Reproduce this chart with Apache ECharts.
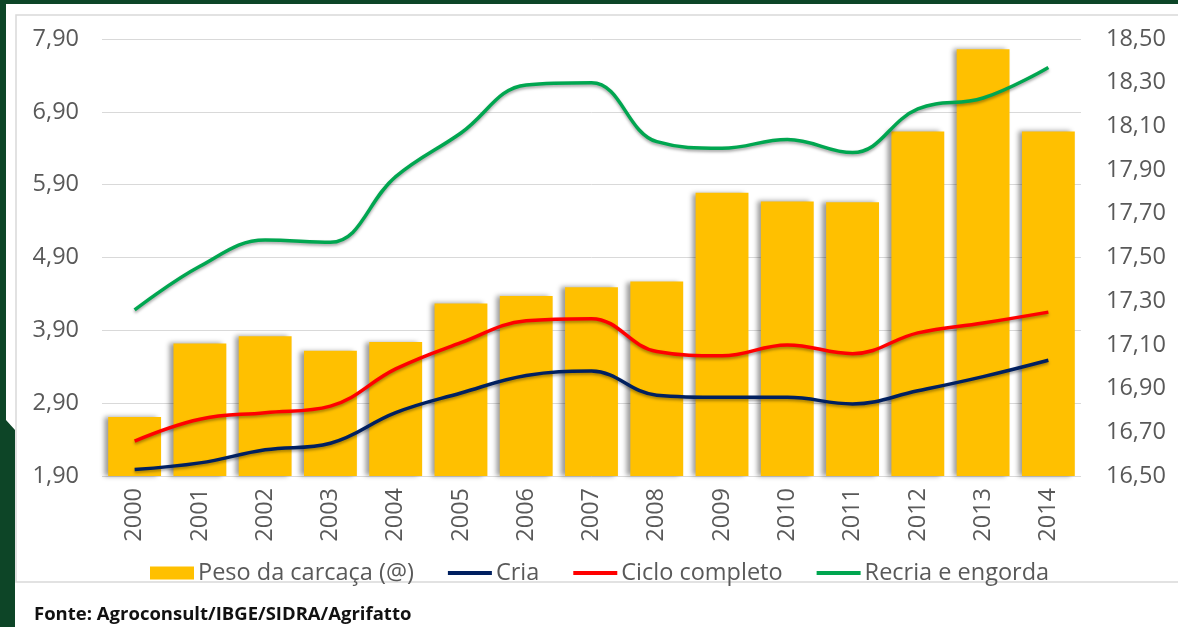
<!DOCTYPE html>
<html><head><meta charset="utf-8">
<script src="https://cdn.jsdelivr.net/npm/echarts@6/dist/echarts.min.js"></script>
<style>html,body{margin:0;padding:0;background:#fff}#c{width:1178px;height:627px}</style>
</head><body><div id="c"></div>
<script>
const years = ['2000','2001','2002','2003','2004','2005','2006','2007','2008','2009','2010','2011','2012','2013','2014'];
const pesoCarcaca = [2.71, 3.72, 3.82, 3.62, 3.74, 4.27, 4.37, 4.49, 4.57, 5.79, 5.67, 5.66, 6.63, 7.76, 6.63];
const cria = [16.53, 16.56, 16.62, 16.65, 16.79, 16.88, 16.96, 16.98, 16.87, 16.86, 16.86, 16.83, 16.89, 16.955, 17.03];
const cicloCompleto = [16.66, 16.76, 16.79, 16.82, 16.99, 17.11, 17.21, 17.22, 17.07, 17.05, 17.10, 17.06, 17.155, 17.20, 17.25];
const recriaEngorda = [17.26, 17.46, 17.58, 17.57, 17.87, 18.07, 18.29, 18.30, 18.03, 18.00, 18.04, 17.98, 18.18, 18.23, 18.37];
const leftAxisScale = [1.9, 7.9, 1];
const rightAxisScale = [16.5, 18.5, 0.2];
const seriesNames = ['Peso da carcaça (@)', 'Cria', 'Ciclo completo', 'Recria e engorda'];
const sourceText = 'Fonte: Agroconsult/IBGE/SIDRA/Agrifatto';

const FONT = '"Open Sans", sans-serif';
const FS = 23.5;
const fmt = v => v.toFixed(2).replace('.', ',');
const chart = echarts.init(document.getElementById('c'));
const lineShadow = {shadowColor: 'rgba(0,0,0,0.35)', shadowBlur: 3, shadowOffsetY: 2};
const lineIcon = 'path://M0,0H46V4H0Z';
chart.setOption({
  backgroundColor: '#ffffff',
  animation: false,
  textStyle: {fontFamily: FONT},
  graphic: [
    {type: 'rect', shape: {x: 16, y: 15, width: 1200, height: 567}, style: {fill: '#fff', stroke: '#d9d9d9', lineWidth: 1.5}, z: -10},
    {type: 'rect', shape: {x: 0, y: 0, width: 1178, height: 4}, style: {fill: '#0d4527'}, z: 100},
    {type: 'polygon', shape: {points: [[0,0],[6,0],[6,420],[15,430],[15,627],[0,627]]}, style: {fill: '#0d4527'}, z: 100}
  ],
  title: {
    text: sourceText, left: 29, top: 600,
    textStyle: {fontFamily: FONT, fontWeight: 'bold', fontSize: 18.5, color: '#111'}
  },
  grid: {left: 102, right: 97, top: 39, height: 437},
  legend: {
    left: 145, top: 556, itemGap: 34, itemWidth: 44, itemHeight: 13,
    textStyle: {fontFamily: FONT, fontSize: FS, color: '#595959', padding: [0,0,0,-1]},
    data: [
      {name: seriesNames[0], icon: 'rect', itemStyle: {shadowBlur: 0, shadowOffsetX: 0}},
      {name: seriesNames[1], icon: lineIcon},
      {name: seriesNames[2], icon: lineIcon},
      {name: seriesNames[3], icon: lineIcon}
    ]
  },
  xAxis: {
    type: 'category', data: years,
    axisLine: {show: false}, axisTick: {show: false},
    axisLabel: {rotate: 90, margin: 12, fontFamily: FONT, fontSize: FS, color: '#595959'}
  },
  yAxis: [
    {
      type: 'value', min: leftAxisScale[0], max: leftAxisScale[1], interval: leftAxisScale[2],
      axisLine: {show: false}, axisTick: {show: false},
      axisLabel: {formatter: fmt, margin: 23, fontFamily: FONT, fontSize: FS, color: '#595959'},
      splitLine: {show: true, lineStyle: {color: '#d9d9d9', width: 1}}
    },
    {
      type: 'value', min: rightAxisScale[0], max: rightAxisScale[1], interval: rightAxisScale[2],
      axisLine: {show: false}, axisTick: {show: false},
      axisLabel: {formatter: fmt, margin: 25, fontFamily: FONT, fontSize: FS, color: '#595959'},
      splitLine: {show: false}
    }
  ],
  series: [
    {
      name: seriesNames[0], type: 'bar', data: pesoCarcaca, yAxisIndex: 0, barCategoryGap: '19%',
      itemStyle: {color: '#ffc000', shadowColor: 'rgba(0,0,0,0.4)', shadowBlur: 5, shadowOffsetX: -4, shadowOffsetY: 0}
    },
    {
      name: seriesNames[1], type: 'line', data: cria, yAxisIndex: 1, smooth: 0.4, symbol: 'none',
      lineStyle: Object.assign({color: '#002060', width: 3.5}, lineShadow), itemStyle: {color: '#002060'}
    },
    {
      name: seriesNames[2], type: 'line', data: cicloCompleto, yAxisIndex: 1, smooth: 0.4, symbol: 'none',
      lineStyle: Object.assign({color: '#ff0000', width: 3.5}, lineShadow), itemStyle: {color: '#ff0000'}
    },
    {
      name: seriesNames[3], type: 'line', data: recriaEngorda, yAxisIndex: 1, smooth: 0.4, symbol: 'none',
      lineStyle: Object.assign({color: '#00a650', width: 3.5}, lineShadow), itemStyle: {color: '#00a650'}
    }
  ]
});
</script></body></html>
